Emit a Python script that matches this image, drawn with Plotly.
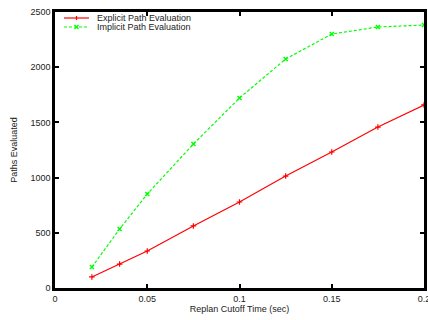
import plotly.graph_objects as go

cutoff = [0.02, 0.035, 0.05, 0.075, 0.1, 0.125, 0.15, 0.175, 0.2]
explicit_paths = [100, 217, 335, 562, 779, 1014, 1232, 1458, 1658]
implicit_paths = [190, 534, 851, 1304, 1721, 2074, 2300, 2364, 2382]
x_ticks = [0, 0.05, 0.1, 0.15, 0.2]
x_tick_labels = ["0", "0.05", "0.1", "0.15", "0.2"]
y_ticks = [0, 500, 1000, 1500, 2000, 2500]
series_names = ["Explicit Path Evaluation", "Implicit Path Evaluation"]
series_colors = ["#ff0000", "#00ff00"]

FONT = "Liberation Sans, Arial, sans-serif"

fig = go.Figure()
fig.add_trace(go.Scatter(x=cutoff, y=explicit_paths, mode="lines+markers",
                         name=series_names[0], cliponaxis=False, showlegend=False,
                         line=dict(color=series_colors[0], width=1.2),
                         marker=dict(symbol="cross-thin", size=4, color=series_colors[0],
                                     line=dict(color=series_colors[0], width=1.2))))
fig.add_trace(go.Scatter(x=cutoff, y=implicit_paths, mode="lines+markers",
                         name=series_names[1], cliponaxis=False, showlegend=False,
                         line=dict(color=series_colors[1], width=1.2, dash="3px,2px"),
                         marker=dict(symbol="x-thin", size=4, color=series_colors[1],
                                     line=dict(color=series_colors[1], width=1.5))))

# Plot area in page pixels: x 55..424, y 12..288
def px_to_paper(px, py):
    return (px - 55) / (424 - 55), 1 - (py - 12) / (288 - 12)

shapes = []
annotations = []
for i, (name, col) in enumerate(zip(series_names, series_colors)):
    py = 18 + 9 * i
    x0, y0 = px_to_paper(64, py)
    x1, _ = px_to_paper(89, py)
    shapes.append(dict(type="line", xref="paper", yref="paper", x0=x0, x1=x1, y0=y0, y1=y0,
                       line=dict(color=col, width=1.2, dash="solid" if i == 0 else "3px,2px")))
    mx, _ = px_to_paper(76.5, py)
    dx = 2 / 369
    dy = 2 / 276
    if i == 0:
        shapes.append(dict(type="line", xref="paper", yref="paper", x0=mx, x1=mx,
                           y0=y0 - dy, y1=y0 + dy, line=dict(color=col, width=1.2)))
    else:
        shapes.append(dict(type="line", xref="paper", yref="paper", x0=mx - dx, x1=mx + dx,
                           y0=y0 - dy, y1=y0 + dy, line=dict(color=col, width=1.5)))
        shapes.append(dict(type="line", xref="paper", yref="paper", x0=mx - dx, x1=mx + dx,
                           y0=y0 + dy, y1=y0 - dy, line=dict(color=col, width=1.5)))
    tx, _ = px_to_paper(95, py)
    annotations.append(dict(text=name, xref="paper", yref="paper", x=tx, y=y0,
                            xanchor="left", yanchor="middle", showarrow=False,
                            font=dict(family=FONT, size=9, color="#222")))

axis_common = dict(showgrid=False, zeroline=False, showline=True, linecolor="black",
                   linewidth=2.5, mirror="ticks", ticks="inside", ticklen=4,
                   tickwidth=2, tickcolor="black", automargin=False,
                   ticklabeloverflow="allow",
                   tickfont=dict(family=FONT, size=9, color="#222"))

fig.update_layout(
    width=428, height=320,
    margin=dict(l=55, r=4, t=12, b=32),
    paper_bgcolor="white", plot_bgcolor="white",
    font=dict(family=FONT, size=9, color="#222"),
    xaxis=dict(range=[0, 0.2], tickvals=x_ticks, ticktext=x_tick_labels,
               title=dict(text="Replan Cutoff Time (sec)", standoff=2,
                          font=dict(size=9)), **axis_common),
    yaxis=dict(range=[0, 2500], tickvals=y_ticks,
               title=dict(text="Paths Evaluated", standoff=12, font=dict(size=9)),
               **axis_common),
    shapes=shapes,
    annotations=annotations,
    showlegend=False,
)

fig.write_html("out.html",
               config={"displayModeBar": False},
               post_script="document.body.style.margin='0';document.body.style.overflow='hidden';")
